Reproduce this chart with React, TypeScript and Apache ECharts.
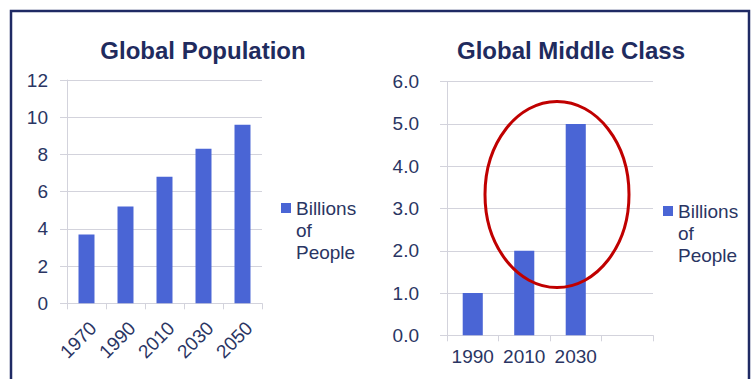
import React, { useEffect, useRef } from "react";
import * as echarts from "echarts";

const popYears = ["1970", "1990", "2010", "2030", "2050"];
const popValues = [3.7, 5.2, 6.8, 8.3, 9.6];
const midYears = ["1990", "2010", "2030", ""];
const midValues = [1.0, 2.0, 5.0];
const seriesName = "Billions of People";
const titles = ["Global Population", "Global Middle Class"];

const NAVY = "#2a3563";
const TITLE = "#1f2b5e";
const BAR = "#4a65d5";
const GRID = "#d3d3dc";
const FONT = "'Liberation Sans', Arial, sans-serif";

export default function App() {
  const ref = useRef<HTMLDivElement>(null);
  useEffect(() => {
    if (!ref.current) return;
    const chart = echarts.init(ref.current, null, { renderer: "svg" });
    const axisLabel = { color: NAVY, fontSize: 19, fontFamily: FONT };
    const legendCommon = {
      orient: "vertical" as const,
      padding: 0,
      icon: "rect",
      itemWidth: 10,
      itemHeight: 10,
      itemGap: 5,
      data: [seriesName],
      selectedMode: false,
      formatter: (n: string) => "\n\n" + n.replace(/ /g, "\n"),
      textStyle: {
        color: NAVY,
        fontSize: 19,
        lineHeight: 22,
        fontFamily: FONT,
      },
    };
    const titleStyle = { color: TITLE, fontSize: 24, fontWeight: "bold", fontFamily: FONT };
    chart.setOption({
      animation: false,
      backgroundColor: "#ffffff",
      textStyle: { fontFamily: FONT },
      title: [
        { text: titles[0], left: 203, top: 38, padding: 0, textAlign: "center", textStyle: titleStyle },
        { text: titles[1], left: 571, top: 38, padding: 0, textAlign: "center", textStyle: titleStyle },
      ],
      legend: [
        { ...legendCommon, left: 281, top: 153 },
        { ...legendCommon, left: 663, top: 156 },
      ],
      grid: [
        { left: 67, top: 80, width: 195, height: 223.3, containLabel: false },
        { left: 447, top: 81.7, width: 206, height: 253.6, containLabel: false },
      ],
      xAxis: [
        {
          type: "category",
          gridIndex: 0,
          data: popYears,
          axisLine: { lineStyle: { color: GRID, width: 1 } },
          axisTick: { show: true, length: 6, lineStyle: { color: GRID } },
          axisLabel: {
            ...axisLabel,
            rotate: 45,
            margin: 15,
            interval: 0,
            align: "right",
            verticalAlign: "top",
          },
        },
        {
          type: "category",
          gridIndex: 1,
          data: midYears,
          axisLine: { lineStyle: { color: GRID, width: 1 } },
          axisTick: { show: true, length: 6, lineStyle: { color: GRID } },
          axisLabel: { ...axisLabel, margin: 12, interval: 0 },
        },
      ],
      yAxis: [
        {
          type: "value",
          gridIndex: 0,
          min: 0,
          max: 12,
          interval: 2,
          axisLine: { show: true, lineStyle: { color: GRID } },
          axisTick: { show: true, length: 7, lineStyle: { color: GRID } },
          splitLine: { lineStyle: { color: GRID } },
          axisLabel: { ...axisLabel, margin: 19 },
        },
        {
          type: "value",
          gridIndex: 1,
          min: 0,
          max: 6,
          interval: 1,
          axisLine: { show: true, lineStyle: { color: GRID } },
          axisTick: { show: true, length: 7, lineStyle: { color: GRID } },
          splitLine: { lineStyle: { color: GRID } },
          axisLabel: { ...axisLabel, margin: 28, formatter: (v: number) => v.toFixed(1) },
        },
      ],
      series: [
        {
          name: seriesName,
          type: "bar",
          xAxisIndex: 0,
          yAxisIndex: 0,
          data: popValues,
          barWidth: "41%",
          itemStyle: { color: BAR },
        },
        {
          name: seriesName,
          type: "bar",
          xAxisIndex: 1,
          yAxisIndex: 1,
          data: midValues,
          barWidth: "39%",
          itemStyle: { color: BAR },
        },
      ],
      graphic: [
        {
          type: "rect",
          silent: true,
          shape: { x: 11, y: 11, width: 738, height: 420 },
          style: { fill: "none", stroke: "#1f2a64", lineWidth: 2.5 },
          z: 100,
        },
        {
          type: "ellipse",
          silent: true,
          shape: { cx: 557, cy: 194.5, rx: 72, ry: 93 },
          style: { fill: "none", stroke: "#c00000", lineWidth: 3 },
          z: 100,
        },
      ],
    });
    return () => chart.dispose();
  }, []);
  return (
    <div
      ref={ref}
      style={{ position: "absolute", left: 0, top: 0, width: 752, height: 379, background: "#fff" }}
    />
  );
}
